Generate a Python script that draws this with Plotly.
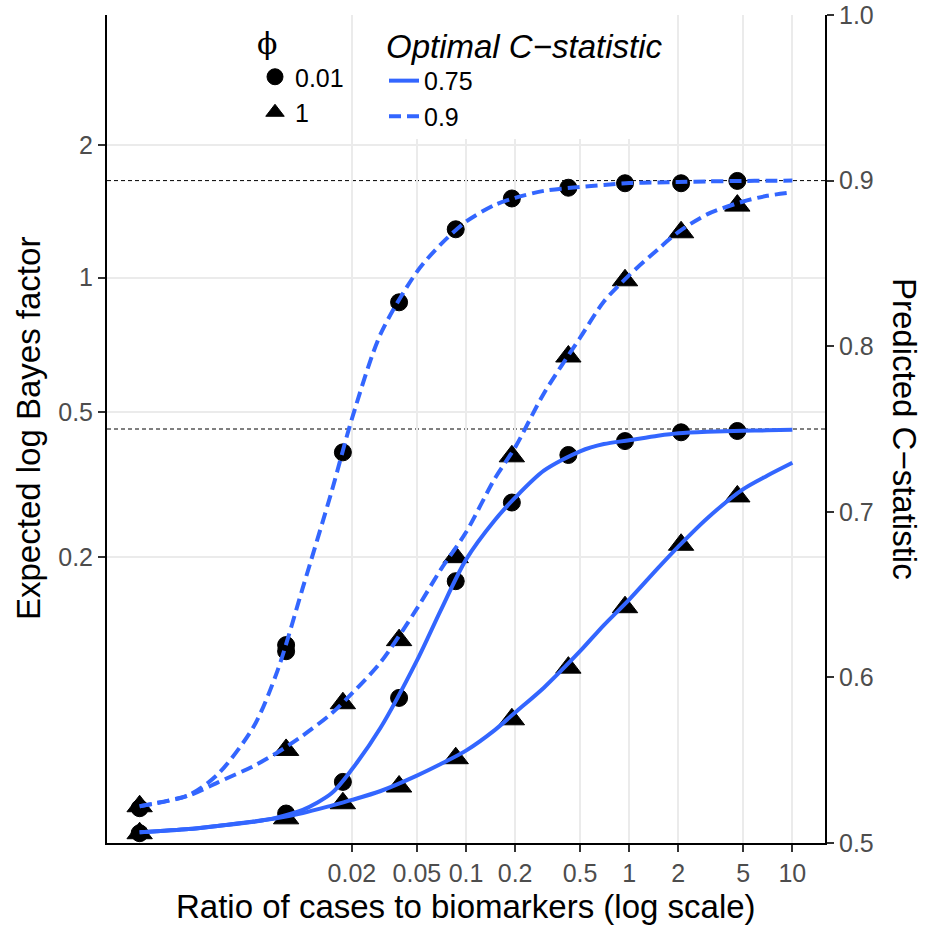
import math
import plotly.graph_objects as go

# ---------------- data ----------------
# simulation ratios of cases to biomarkers
sim_ratio = [0.001, 0.0079, 0.0176, 0.0389, 0.0865, 0.191, 0.424, 0.943, 2.08, 4.6]

# simulated predicted C-statistic (points)
c90_phi001_pts = [0.5210, 0.6195, 0.7359, 0.8265, 0.8706, 0.8892, 0.8957, 0.8984, 0.8984, 0.8998]
c90_phi1_pts = [0.5222, 0.5562, 0.5844, 0.6225, 0.6726, 0.7335, 0.7938, 0.8398, 0.8688, 0.8849]
c75_phi001_pts = [0.5059, 0.5178, 0.5369, 0.5876, 0.6581, 0.7056, 0.7343, 0.7427, 0.7480, 0.7488]
c75_phi1_pts = [0.5059, 0.5149, 0.5240, 0.5341, 0.5512, 0.5747, 0.6059, 0.6424, 0.6801, 0.7093]
# a second, slightly different replicate visible at one ratio
c90_phi001_extra_ratio = [0.0079]
c90_phi001_extra_pts = [0.6158]

# theoretical curves
curve_ratio = [0.001, 0.002, 0.003, 0.005, 0.007, 0.01, 0.015, 0.02, 0.03, 0.05, 0.07, 0.1,
               0.15, 0.2, 0.3, 0.5, 0.7, 1, 1.5, 2, 3, 5, 7, 10]
c90_phi001_curve = [0.5222, 0.5290, 0.5413, 0.5703, 0.6041, 0.6542, 0.7121, 0.7562, 0.8075, 0.8449,
                    0.8615, 0.8752, 0.8853, 0.8896, 0.8938, 0.8962, 0.8974, 0.8985, 0.8989, 0.8992,
                    0.8995, 0.8998, 0.8999, 0.9000]
c90_phi1_curve = [0.5222, 0.5287, 0.5365, 0.5465, 0.5547, 0.5649, 0.5782, 0.5903, 0.6092, 0.6415,
                  0.6651, 0.6876, 0.7200, 0.7389, 0.7715, 0.8051, 0.8270, 0.8429, 0.8585, 0.8689,
                  0.8796, 0.8874, 0.8908, 0.8929]
c75_phi001_curve = [0.5065, 0.5084, 0.5103, 0.5128, 0.5155, 0.5200, 0.5300, 0.5445, 0.5697, 0.6101,
                    0.6405, 0.6711, 0.6949, 0.7085, 0.7248, 0.7365, 0.7409, 0.7432, 0.7459, 0.7474,
                    0.7483, 0.7489, 0.7492, 0.7495]
c75_phi1_curve = [0.5065, 0.5084, 0.5103, 0.5130, 0.5151, 0.5181, 0.5226, 0.5260, 0.5314, 0.5407,
                  0.5477, 0.5558, 0.5682, 0.5788, 0.5938, 0.6158, 0.6316, 0.6470, 0.6660, 0.6790,
                  0.6960, 0.7137, 0.7218, 0.7296]

optimal_c = [0.75, 0.9]
optimal_c_labels = ["0.75", "0.9"]
phi_labels = ["0.01", "1"]

x_tick_vals = [0.02, 0.05, 0.1, 0.2, 0.5, 1, 2, 5, 10]
x_tick_labels = ["0.02", "0.05", "0.1", "0.2", "0.5", "1", "2", "5", "10"]
bf_tick_vals = [0.2, 0.5, 1, 2]
bf_tick_labels = ["0.2", "0.5", "1", "2"]
c_tick_vals = [0.5, 0.6, 0.7, 0.8, 0.9, 1.0]
c_tick_labels = ["0.5", "0.6", "0.7", "0.8", "0.9", "1.0"]


def bf_to_c(v):
    # C = Phi(sqrt(expected log Bayes factor))
    return 0.5 * (1 + math.erf(math.sqrt(v) / math.sqrt(2)))


bf_tick_pos = [bf_to_c(v) for v in bf_tick_vals]

BLUE = "#3366FF"
FONT = "Liberation Sans, Arial, Helvetica, sans-serif"
TICK_GREY = "#4D4D4D"

fig = go.Figure()

# ---------------- points (drawn first, lines go on top) ----------------
def pts(x, y, symbol, size, name, show):
    fig.add_trace(go.Scatter(
        x=x, y=y, mode="markers", name=name, legend="legend", showlegend=show,
        marker=dict(symbol=symbol, size=size, color="black",
                    line=dict(color="black", width=1)),
        xaxis="x", yaxis="y", cliponaxis=False))

pts(sim_ratio, c90_phi001_pts, "circle", 17, phi_labels[0], True)
pts(c90_phi001_extra_ratio, c90_phi001_extra_pts, "circle", 17, phi_labels[0], False)
pts(sim_ratio, c75_phi001_pts, "circle", 17, phi_labels[0], False)
pts(sim_ratio, c90_phi1_pts, "triangle-up", 22, phi_labels[1], True)
pts(sim_ratio, c75_phi1_pts, "triangle-up", 22, phi_labels[1], False)

# ---------------- curves ----------------
def curve(y, dash, name, show):
    fig.add_trace(go.Scatter(
        x=curve_ratio, y=y, mode="lines", name=name, legend="legend2", showlegend=show,
        line=dict(color=BLUE, width=4, dash=dash, shape="spline", smoothing=0.8),
        xaxis="x", yaxis="y2"))

curve(c75_phi001_curve, "solid", optimal_c_labels[0], True)
curve(c75_phi1_curve, "solid", optimal_c_labels[0], False)
curve(c90_phi001_curve, "12px,6px", optimal_c_labels[1], True)
curve(c90_phi1_curve, "12px,6px", optimal_c_labels[1], False)

# reference lines at the optimal C-statistics
for c in optimal_c:
    fig.add_shape(type="line", xref="x domain", x0=0, x1=1, yref="y", y0=c, y1=c,
                  line=dict(color="black", width=1, dash="4px,3px"), layer="below")

axis_common = dict(showline=True, linecolor="black", linewidth=2, ticks="outside",
                   ticklen=7, tickwidth=1.5, tickcolor="#333333", zeroline=False,
                   automargin=False,
                   tickfont=dict(family=FONT, size=25, color=TICK_GREY))

fig.update_layout(
    width=927, height=928,
    margin=dict(l=107, r=102, t=15, b=85, autoexpand=False),
    plot_bgcolor="white", paper_bgcolor="white",
    font=dict(family=FONT, size=25, color="black"),
    xaxis=dict(type="log", range=[-3.2, 1.2], tickvals=x_tick_vals, ticktext=x_tick_labels,
               showgrid=True, gridcolor="#EBEBEB", gridwidth=1.5, **axis_common),
    yaxis=dict(range=[0.5, 1.0], tickvals=bf_tick_pos, ticktext=bf_tick_labels,
               showgrid=True, gridcolor="#EBEBEB", gridwidth=1.5, **axis_common),
    yaxis2=dict(range=[0.5, 1.0], overlaying="y", side="right", tickvals=c_tick_vals,
                ticktext=c_tick_labels, showgrid=False, **axis_common),
    legend=dict(
        title=dict(text="ϕ", font=dict(family="DejaVu Serif", size=30, color="black")),
        x=(255 - 107) / 718, y=1.0, xanchor="left", yanchor="top",
        bgcolor="white", borderwidth=0, font=dict(family=FONT, size=25, color="black"),
        tracegroupgap=0),
    legend2=dict(
        title=dict(text="<i>Optimal C−statistic</i>", font=dict(family=FONT, size=33, color="black")),
        x=(384 - 107) / 718, y=1.0, xanchor="left", yanchor="top",
        bgcolor="white", borderwidth=0, font=dict(family=FONT, size=25, color="black"),
        tracegroupgap=0),
    showlegend=True,
)

# axis titles
fig.add_annotation(text="Ratio of cases to biomarkers (log scale)", xref="paper", yref="paper",
                   x=0.5, y=-(907 - 843) / 828, xanchor="center", yanchor="middle",
                   showarrow=False, font=dict(family=FONT, size=33, color="black"))
fig.add_annotation(text="Expected log Bayes factor", xref="paper", yref="paper",
                   x=(28 - 107) / 718, y=0.5, xanchor="center", yanchor="middle", textangle=-90,
                   showarrow=False, font=dict(family=FONT, size=33, color="black"))
fig.add_annotation(text="Predicted C−statistic", xref="paper", yref="paper",
                   x=(905 - 107) / 718, y=0.5, xanchor="center", yanchor="middle", textangle=90,
                   showarrow=False, font=dict(family=FONT, size=33, color="black"))

fig.write_html("out.html", config={"displayModeBar": False},
               post_script="document.body.style.margin='0';document.body.style.padding='0';")
